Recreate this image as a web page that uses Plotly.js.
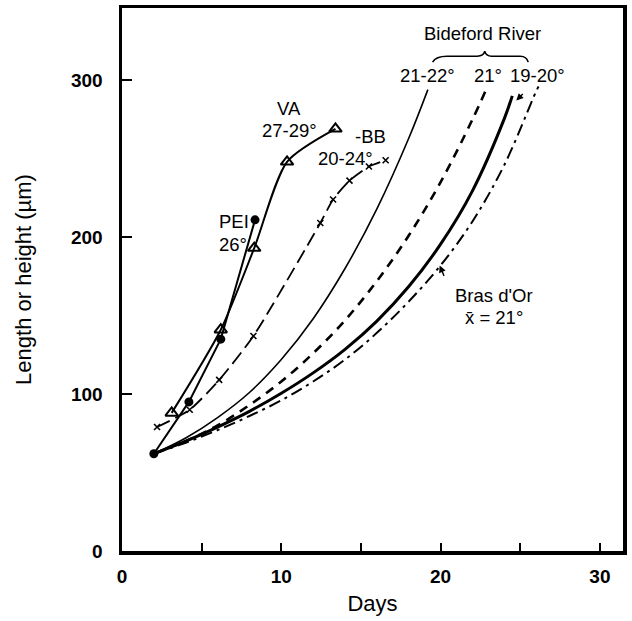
<!DOCTYPE html>
<html>
<head>
<meta charset="utf-8">
<script src="https://cdn.plot.ly/plotly-3.0.1.min.js"></script>
<style>html,body{margin:0;padding:0;background:#fff;}#chart{width:632px;height:621px;}</style>
</head>
<body>
<div id="chart"></div>
<script>
// ---- data ----
const peiX = [2, 4.2, 6.2, 8.35];
const peiY = [62, 95, 135, 211];

const vaX = [3.12, 6.2, 8.3, 10.36, 13.4];
const vaY = [88, 141, 193, 248, 269];

const bbX = [2.2, 4.25, 6.1, 8.25, 12.45, 13.25, 14.28, 15.5, 16.55];
const bbY = [79, 90, 109, 137, 209, 224, 236, 245, 249];

const bid2122X = [2, 4, 6, 8, 10, 12, 14, 16, 18, 19.2];
const bid2122Y = [62, 72, 85, 101, 122, 148, 180, 218, 263, 294];

const bid21X = [2, 4, 6, 8, 10, 12, 14, 16, 18, 20, 22, 22.9];
const bid21Y = [62, 70, 80, 93, 108, 126, 147, 172, 201, 235, 275, 295];

const bid1920X = [2, 4, 6, 8, 10, 12, 14, 16, 18, 20, 22, 24, 24.5];
const bid1920Y = [62, 70, 79, 89, 100.5, 113.5, 128.5, 146.5, 168.5, 195.5, 229.5, 275.5, 290];

const brasX = [2, 4, 6, 8, 10, 12, 14, 16, 18, 20, 22, 24, 26, 26.15];
const brasY = [62, 69, 77, 86, 96, 108, 122, 139, 159, 182, 210, 246, 293, 296];

const xTickVals = [0, 10, 20, 30];
const xTickText = ['0', '10', '20', '30'];
const yTickVals = [0, 100, 200, 300];
const yTickText = ['0', '100', '200', '300'];

const FONT = 'Liberation Sans, Arial, Helvetica, sans-serif';

const traces = [
  {x: bid2122X, y: bid2122Y, mode: 'lines', line: {color: '#000', width: 1.6, shape: 'spline'}, hoverinfo: 'skip'},
  {x: bid21X, y: bid21Y, mode: 'lines', line: {color: '#000', width: 2.6, dash: '9px,7px', shape: 'spline'}, hoverinfo: 'skip'},
  {x: bid1920X, y: bid1920Y, mode: 'lines', line: {color: '#000', width: 3, shape: 'spline'}, hoverinfo: 'skip'},
  {x: brasX, y: brasY, mode: 'lines', line: {color: '#000', width: 2, dash: '12px,5px,3px,5px', shape: 'spline'}, hoverinfo: 'skip'},
  {x: bbX, y: bbY, mode: 'lines+markers', line: {color: '#000', width: 1.8, dash: '14px,6px', shape: 'spline', smoothing: 0.6},
   marker: {symbol: 'x-thin-open', size: 6, color: '#000', line: {color: '#000', width: 1.6}}},
  {x: peiX, y: peiY, mode: 'lines+markers', line: {color: '#000', width: 2},
   marker: {symbol: 'circle', size: 9, color: '#000'}},
  {x: vaX, y: vaY, mode: 'lines+markers', line: {color: '#000', width: 2, shape: 'spline', smoothing: 0.7},
   marker: {symbol: 'triangle-up-open', size: 11, color: '#000', line: {color: '#000', width: 2}}}
];

const ann = (x, y, text, extra) => Object.assign({x: x, y: y, xref: 'x', yref: 'y', text: text, showarrow: false,
  font: {family: FONT, size: 18.5, color: '#000'}}, extra || {});

const annotations = [
  ann(10.5, 282, 'VA'),
  ann(10.5, 268, '27-29°'),
  ann(15.6, 264, '-BB'),
  ann(14.05, 250, '20-24°'),
  ann(7.0, 210, 'PEI'),
  ann(6.95, 195, '26°'),
  ann(22.65, 330, 'Bideford River'),
  ann(19.2, 303, '21-22°'),
  ann(23.0, 303, '21°'),
  ann(26.1, 303, '19-20°'),
  ann(23.35, 163, 'Bras d\'Or'),
  ann(23.35, 149, 'x\u0304 = 21°'),
  {x: 19.94, y: 182, xref: 'x', yref: 'y', text: '', showarrow: true, ax: 5, ay: 12,
   arrowhead: 2, arrowsize: 1, arrowwidth: 1.4, arrowcolor: '#000'},
  {x: 24.75, y: 287, xref: 'x', yref: 'y', text: '', showarrow: true, ax: 8, ay: -8,
   arrowhead: 2, arrowsize: 1, arrowwidth: 1.4, arrowcolor: '#000'}
];

const shapes = [
  {type: 'path', xref: 'x', yref: 'y',
   path: 'M19.5,311.5 Q19.7,315.3 20.4,315.3 L22.3,315.3 Q22.7,315.3 22.77,318.5 Q22.85,315.3 23.2,315.3 L25.0,315.3 Q25.4,315.3 25.5,311.5',
   line: {color: '#000', width: 1.6}}
];

const layout = {
  width: 632, height: 621,
  margin: {l: 122, r: 9, t: 8, b: 70},
  paper_bgcolor: '#fff', plot_bgcolor: '#fff',
  showlegend: false,
  font: {family: FONT, color: '#000'},
  xaxis: {
    range: [0, 31.45], showgrid: false, zeroline: false,
    showline: true, linewidth: 3.5, linecolor: '#000', mirror: true,
    tickmode: 'array', tickvals: xTickVals, ticktext: xTickText,
    ticks: 'inside', ticklen: 8, tickwidth: 2, tickcolor: '#000',
    minor: {ticks: 'inside', dtick: 5, ticklen: 8, tickwidth: 2, tickcolor: '#000', showgrid: false},
    tickfont: {family: FONT, size: 19, color: '#000', weight: 'bold'},
    ticklabelstandoff: 6,
    title: {text: 'Days', font: {family: FONT, size: 22, color: '#000'}, standoff: 10}
  },
  yaxis: {
    range: [0, 346], showgrid: false, zeroline: false,
    showline: true, linewidth: 3.5, linecolor: '#000', mirror: true,
    tickmode: 'array', tickvals: yTickVals, ticktext: yTickText,
    ticks: 'inside', ticklen: 10, tickwidth: 2, tickcolor: '#000',
    tickfont: {family: FONT, size: 19, color: '#000', weight: 'bold'},
    ticklabelstandoff: 12,
    title: {text: 'Length or height (µm)', font: {family: FONT, size: 22, color: '#000'}, standoff: 34}
  },
  annotations: annotations,
  shapes: shapes
};

Plotly.newPlot('chart', traces, layout, {staticPlot: true, displayModeBar: false});
</script>
</body>
</html>
